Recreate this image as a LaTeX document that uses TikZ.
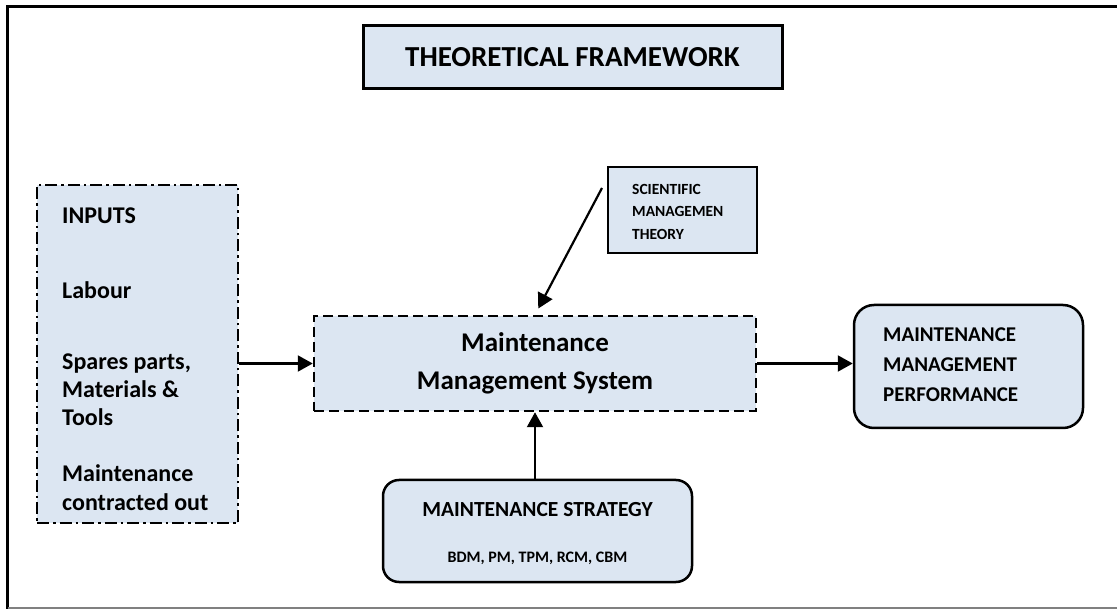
\documentclass[tikz,border=0pt]{standalone}
\usepackage{fontspec}
\setmainfont{Carlito}
\usetikzlibrary{arrows.meta}
\definecolor{boxfill}{HTML}{DCE6F2}
\tikzset{
  box/.style={draw, fill=boxfill, line width=2.5pt, inner sep=0pt},
  arr/.style={line width=2.2pt, -{Triangle[length=15pt,width=16pt]}},
  lbl/.style={inner sep=0pt, font=\bfseries, align=left, anchor=west},
}
\begin{document}
\begin{tikzpicture}[x=1pt,y=-1pt]
\useasboundingbox (0,0) rectangle (1117,609);
% outer frame
\draw[line width=3pt] (7.5,609) -- (7.5,6.5) -- (1117,6.5);
\draw[line width=1.5pt, gray] (7.5,607.8) -- (1117,607.8);
% title
\node[box, line width=3pt, minimum width=419pt, minimum height=63pt,
      font=\fontsize{29}{34}\selectfont\bfseries] (title) at (572.5,57.5) {THEORETICAL FRAMEWORK};
% inputs
\node[box, dash pattern=on 12pt off 4pt on 2.5pt off 4pt, minimum width=201pt, minimum height=338pt] (inputs) at (137.5,354) {};
\node[lbl, font=\fontsize{24}{28}\selectfont\bfseries] (in1) at (62,216) {INPUTS};
\node[lbl, font=\fontsize{24}{28}\selectfont\bfseries] (in2) at (62,290) {Labour};
\node[lbl, font=\fontsize{24}{28}\selectfont\bfseries] (in3) at (62,390) {Spares parts,\\Materials \&\\Tools};
\node[lbl, font=\fontsize{24}{29}\selectfont\bfseries] (in4) at (62,487.5) {Maintenance\\contracted out};
% MMS
\node[box, dash pattern=on 10pt off 5pt, minimum width=442pt, minimum height=95pt] (mms) at (535,363.5) {};
\node[inner sep=0pt, align=center, font=\fontsize{27}{38}\selectfont\bfseries] (mmst) at (535,363) {Maintenance\\Management System};
% SMT
\node[box, minimum width=149pt, minimum height=86pt] (smt) at (682.5,210) {};
\node[lbl, font=\fontsize{15.5}{22.5}\selectfont\bfseries] (smtt) at (632,211.5) {SCIENTIFIC\\MANAGEMEN\\THEORY};
% MS
\node[box, rounded corners=16pt, minimum width=309pt, minimum height=102pt] (ms) at (537.5,531) {};
\node[inner sep=0pt, font=\fontsize{21.5}{25}\selectfont\bfseries] (mst1) at (537.5,510) {MAINTENANCE STRATEGY};
\node[inner sep=0pt, font=\fontsize{16}{19}\selectfont\bfseries] (mst2) at (537.5,558) {BDM, PM, TPM, RCM, CBM};
% MMP
\node[box, rounded corners=20pt, minimum width=229pt, minimum height=123pt] (mmp) at (968.5,366.5) {};
\node[lbl, font=\fontsize{21}{30}\selectfont\bfseries] (mmpt) at (883,365) {MAINTENANCE\\MANAGEMENT\\PERFORMANCE};
% connectors
\coordinate (smtfrom) at (602,188);
\draw[arr] (inputs.east |- mms.west) -- (mms.west);
\draw[arr] (mms.east) -- (mmp.west |- mms.east);
\draw[arr] (ms.north -| mms.south) -- (mms.south);
\draw[arr, shorten >=7pt] (smtfrom) -- (mms.north);
\end{tikzpicture}
\end{document}
